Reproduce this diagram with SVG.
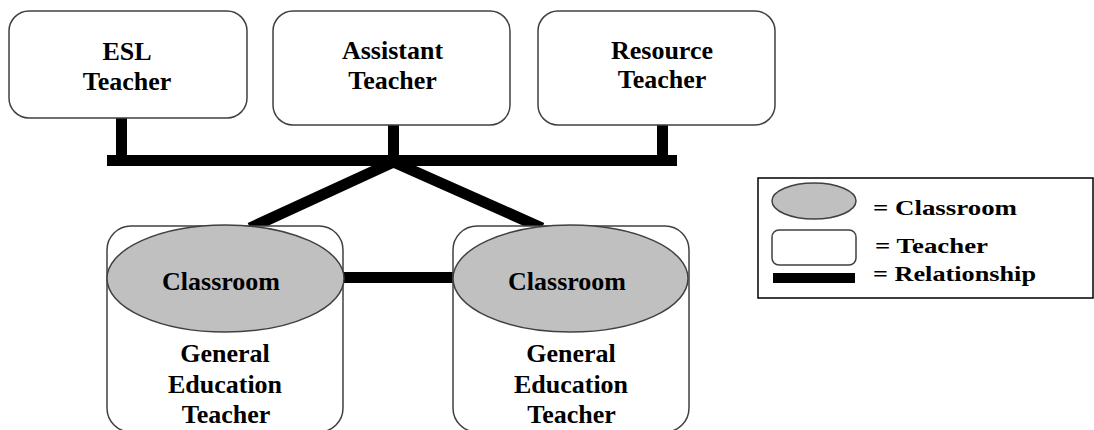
<svg xmlns="http://www.w3.org/2000/svg" width="1094" height="430" viewBox="0 0 1094 430">
<style>
.box{fill:#fff;stroke:#404040;stroke-width:1.5}
.cls{fill:#c0c0c0;stroke:#404040;stroke-width:1.5}
.t{font-family:"Liberation Serif","Times New Roman",serif;font-weight:bold;font-size:26px;fill:#000;text-anchor:middle}
.lt{font-family:"Liberation Serif","Times New Roman",serif;font-weight:bold;font-size:22px;fill:#000}
.rel{stroke:#000;stroke-width:11;fill:none;stroke-linecap:butt}
</style>
<rect width="1094" height="430" fill="#fff"/>
<g id="connectors">
<line class="rel" x1="107" y1="160.5" x2="677" y2="160.5"/>
<line class="rel" x1="121.5" y1="118" x2="121.5" y2="160"/>
<line class="rel" x1="393.5" y1="125" x2="393.5" y2="160"/>
<line class="rel" x1="662.5" y1="125" x2="662.5" y2="160"/>
<path class="rel" d="M250,228 L393.5,162 L542,228" stroke-width="12" stroke-linejoin="miter"/>
<line class="rel" x1="343" y1="277.5" x2="453" y2="277.5"/>
</g>
<g id="esl-teacher">
<rect class="box" x="9" y="11" width="238" height="107" rx="20"/>
<text class="t" x="127" y="60">ESL</text>
<text class="t" x="127" y="90">Teacher</text>
</g>
<g id="assistant-teacher">
<rect class="box" x="273" y="11" width="237" height="114" rx="20"/>
<text class="t" x="392.5" y="59">Assistant</text>
<text class="t" x="392.5" y="89">Teacher</text>
</g>
<g id="resource-teacher">
<rect class="box" x="538" y="11" width="237" height="114" rx="20"/>
<text class="t" x="662" y="59">Resource</text>
<text class="t" x="662" y="88">Teacher</text>
</g>
<g id="classroom-left">
<rect class="box" x="107" y="226" width="236" height="206" rx="24"/>
<ellipse class="cls" cx="225.5" cy="278.5" rx="118.5" ry="53.5"/>
<text class="t" x="221" y="290">Classroom</text>
<text class="t" x="225" y="362">General</text>
<text class="t" x="225" y="393">Education</text>
<text class="t" x="226" y="423">Teacher</text>
</g>
<g id="classroom-right">
<rect class="box" x="453" y="226" width="236" height="206" rx="24"/>
<ellipse class="cls" cx="570.5" cy="278.5" rx="117.5" ry="53.5"/>
<text class="t" x="567" y="290">Classroom</text>
<text class="t" x="571" y="362">General</text>
<text class="t" x="571" y="393">Education</text>
<text class="t" x="571.5" y="423">Teacher</text>
</g>
<g id="legend">
<rect x="758" y="178" width="335" height="120" fill="#fff" stroke="#000" stroke-width="1.5"/>
<ellipse class="cls" cx="814" cy="201" rx="42" ry="18"/>
<rect class="box" x="772" y="230" width="84" height="35" rx="7"/>
<rect x="773" y="273" width="82" height="10" fill="#000"/>
<text class="lt" x="873" y="215" textLength="144" lengthAdjust="spacingAndGlyphs">= Classroom</text>
<text class="lt" x="875" y="253" textLength="113" lengthAdjust="spacingAndGlyphs">= Teacher</text>
<text class="lt" x="873" y="281" textLength="163" lengthAdjust="spacingAndGlyphs">= Relationship</text>
</g>
</svg>
